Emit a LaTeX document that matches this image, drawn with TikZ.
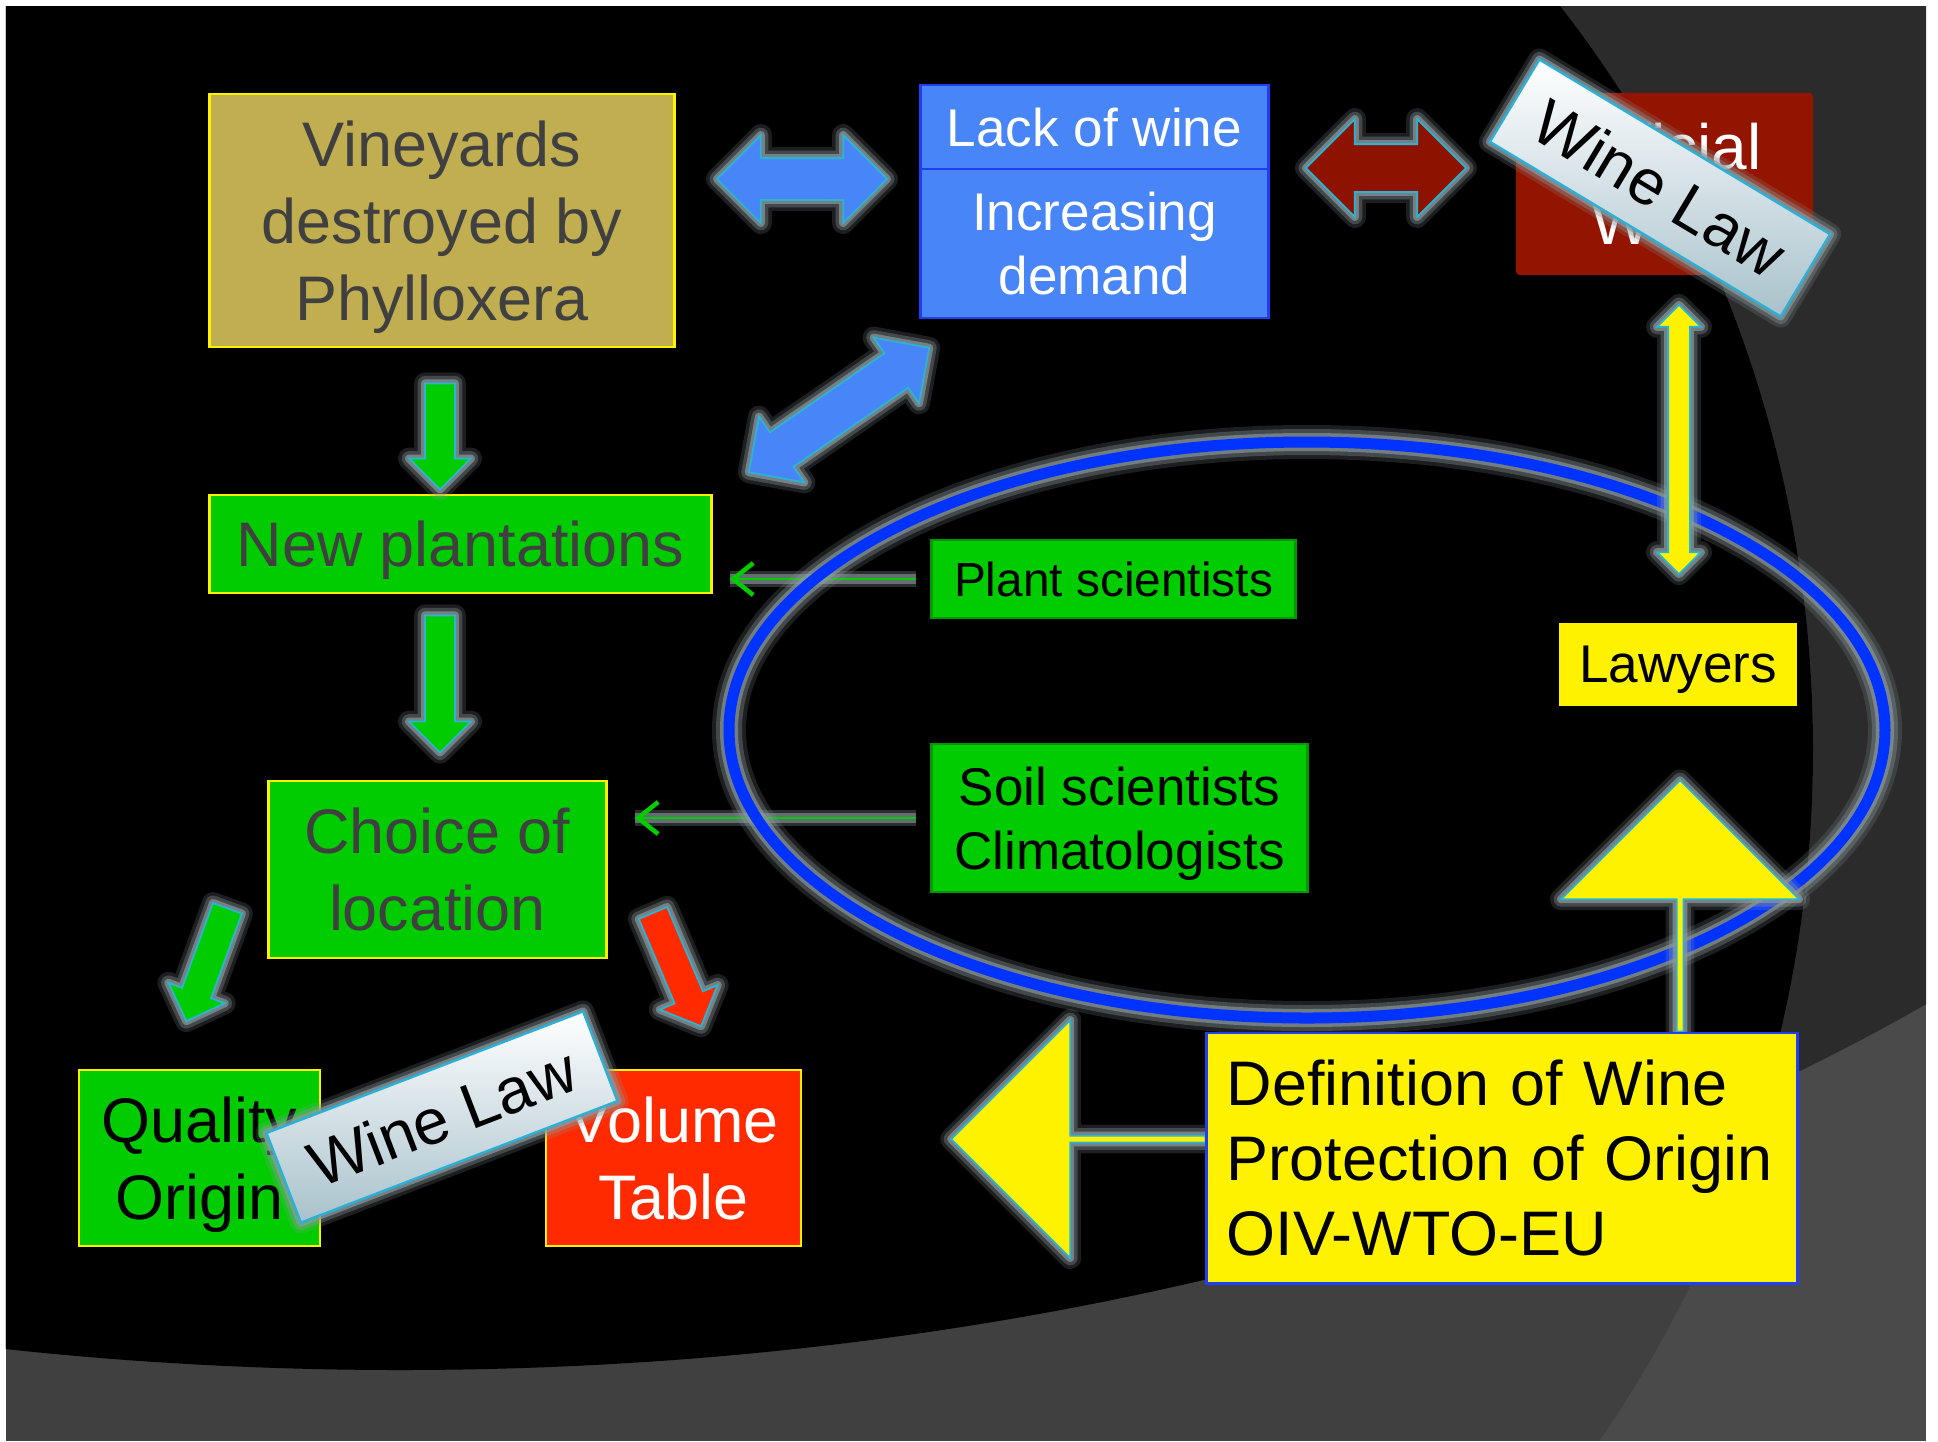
\documentclass[tikz,border=0pt]{standalone}
\usepackage{fontspec}
\setmainfont{Liberation Sans}
\usepackage{xcolor}
\usepackage{tikz}
\usetikzlibrary{shapes.arrows,arrows.meta}

\definecolor{vinegold}{HTML}{C0AE50}
\definecolor{boxgreen}{HTML}{00CC00}
\definecolor{edgegreen}{HTML}{009A00}
\definecolor{textgray}{HTML}{404040}
\definecolor{lackblue}{HTML}{4885F7}
\definecolor{lackedge}{HTML}{1F3FF5}
\definecolor{winered}{HTML}{8E1200}
\definecolor{offred}{HTML}{931500}
\definecolor{tablered}{HTML}{FF2A00}
\definecolor{arrowedge}{HTML}{2AB5D5}
\definecolor{glowgray}{HTML}{8C9A9E}
\definecolor{ringblue}{HTML}{0033FF}
\definecolor{labelblue}{HTML}{A9C2CC}
\definecolor{labeledge}{HTML}{2DB0D6}
\definecolor{darkbg}{HTML}{2B2B2B}
\definecolor{lowbg}{HTML}{404040}
\definecolor{lowbgright}{HTML}{4A4A4A}

\newcommand{\bigtext}{\fontsize{17.9}{21.9}\selectfont}
\newcommand{\deftext}{\fontsize{17.9}{21.4}\selectfont}
\newcommand{\lawtext}{\fontsize{18.2}{21.3}\selectfont}
\newcommand{\midtext}{\fontsize{15.1}{18.2}\selectfont}
\newcommand{\smalltext}{\fontsize{13.6}{16}\selectfont}

\begin{document}
\begin{tikzpicture}
    [x=0.01cm,y=-0.01cm,
    glow/.style={preaction={draw=glowgray,line width=0.22cm,opacity=0.2,line join=round},
                 preaction={draw=glowgray,line width=0.15cm,opacity=0.35,line join=round},
                 preaction={draw=glowgray,line width=0.08cm,opacity=0.7,line join=round}},
    box/.style={shape=rectangle,draw=yellow,line width=0.8pt,inner sep=0pt,align=center,text depth=0pt,font=\bigtext},
    smallbox/.style={shape=rectangle,fill=boxgreen,draw=edgegreen,line width=0.8pt,inner sep=0pt,align=center,text depth=0pt,font=\midtext},
    defbox/.style={shape=rectangle,draw=lackedge,fill=yellow,line width=0.8pt,inner ysep=0pt,inner xsep=0.2cm,align=left,font=\deftext},
    law/.style={shape=rectangle,glow,draw=labeledge,line width=0.7pt,top color=white,bottom color=labelblue,
        minimum width=3.39cm,minimum height=0.96cm,inner sep=0pt,font=\lawtext},
    twoway/.style={shape=double arrow,glow,draw=arrowedge,line width=0.5pt,inner xsep=0pt},
    oneway/.style={shape=single arrow,glow,draw=arrowedge,line width=0.5pt,inner xsep=0pt},
    feed/.style={draw=boxgreen,line width=0.7pt,-{Straight Barb[length=0.2cm,width=0.32cm,line width=1.3pt]},
        preaction={draw=glowgray,line width=0.16cm,opacity=0.3,-},
        preaction={draw=glowgray,line width=0.1cm,opacity=0.6,-}},
    ringline/.style={draw=ringblue,line width=0.11cm,
        preaction={draw=glowgray,line width=0.34cm,opacity=0.2},
        preaction={draw=glowgray,line width=0.26cm,opacity=0.35},
        preaction={draw=glowgray,line width=0.18cm,opacity=0.65}}]

    \useasboundingbox (0,0) rectangle (1938,1441);

    % slide background
    \fill [white] (0,0) rectangle (1938,1441);
    \fill [lowbgright] (6,6) rectangle (1926,1441);
    \begin{scope}
        \clip (6,6) rectangle (1926,1441);
        \fill [darkbg] (400,62) ellipse [x radius=2200, y radius=1308];
        \clip (683,750) ellipse [x radius=1130, y radius=1180];
        \fill [lowbg] (6,6) rectangle (1926,1441);
        \fill [black] (400,62) ellipse [x radius=2200, y radius=1308];
    \end{scope}

    \node (vine) [box,fill=vinegold,text=textgray,minimum width=4.64cm,minimum height=2.53cm] at (442,220.5) {Vineyards\\destroyed by\\Phylloxera};
    \node (lack) [box,draw=lackedge,fill=lackblue,text=white,font=\midtext,minimum width=3.47cm,minimum height=0.84cm] at (1094.5,127) {Lack of wine};
    \node (incr) [box,draw=lackedge,fill=lackblue,text=white,font=\midtext,minimum width=3.47cm,minimum height=1.49cm] at (1094.5,243.5) {Increasing\\demand};
    \node (official) [box,draw=none,fill=offred,text=white,font=\lawtext,rounded corners=0.04cm,minimum width=2.97cm,minimum height=1.82cm] at (1664.5,184) {Official\\Wine};
    \node (newplant) [box,fill=boxgreen,text=textgray,minimum width=5.01cm,minimum height=0.98cm] at (460.5,544) {New plantations};
    \node (plant) [smallbox,font=\smalltext,minimum width=3.63cm,minimum height=0.78cm] at (1113.5,579) {Plant scientists};
    \node (choice) [box,fill=boxgreen,text=textgray,minimum width=3.37cm,minimum height=1.77cm] at (437.5,869.5) {Choice of\\location};
    \node (soil) [smallbox,minimum width=3.75cm,minimum height=1.48cm] at (1119.5,818) {Soil scientists\\Climatologists};
    \node (lawyers) [box,fill=yellow,font=\midtext,minimum width=2.36cm,minimum height=0.81cm] at (1678,664.5) {Lawyers};
    \node (quality) [box,fill=boxgreen,minimum width=2.41cm,minimum height=1.76cm] at (199.5,1158) {Quality\\Origin};
    \node (volume) [box,fill=tablered,text=white,minimum width=2.55cm,minimum height=1.76cm] at (673.5,1158) {Volume\\Table};

    \draw [feed,shorten <=0.14cm,shorten >=0.17cm] (plant.west) to (plant.west -| newplant.east);
    \draw [feed,shorten <=0.14cm,shorten >=0.27cm] (soil.west) to (soil.west -| choice.east);

    \draw [ringline] (1307,730) ellipse [x radius=578, y radius=288];

    \node (a1) [twoway,fill=lackblue,inner ysep=0.2cm,double arrow head extend=0.23cm,minimum height=1.7cm] at (802,179) {};
    \node (a2) [twoway,fill=winered,inner ysep=0.23cm,double arrow head extend=0.25cm,minimum height=1.6cm] at (1386,168) {};
    \node (a3) [twoway,fill=lackblue,rotate=34.6,inner ysep=0.2cm,double arrow head extend=0.19cm,minimum height=2.19cm] at (839,410) {};
    \node (a4) [oneway,fill=boxgreen,rotate=-90,inner ysep=0.14cm,single arrow head extend=0.16cm,minimum height=1.06cm] at (440,429) {};
    \node (a5) [oneway,fill=boxgreen,rotate=-90,inner ysep=0.14cm,single arrow head extend=0.16cm,minimum height=1.37cm] at (440,676.5) {};
    \node (a6) [oneway,fill=boxgreen,rotate=-110,inner ysep=0.145cm,single arrow head extend=0.145cm,minimum height=1.2cm] at (209.5,957.5) {};
    \node (a7) [oneway,fill=tablered,rotate=-67,inner ysep=0.145cm,single arrow head extend=0.16cm,minimum height=1.23cm] at (674,962.5) {};
    \node (a8) [twoway,fill=yellow,rotate=90,inner ysep=0.1cm,double arrow head extend=0.11cm,minimum height=2.69cm] at (1679,439.5) {};
    \node (a9) [oneway,fill=yellow,rotate=90,inner ysep=0.025cm,single arrow head extend=1.155cm,minimum height=2.51cm] at (1680,907.5) {};
    \node (a10) [oneway,fill=yellow,rotate=180,inner ysep=0.025cm,single arrow head extend=1.155cm,minimum height=2.54cm] at (1080,1139) {};

    \node (def) [defbox,text width=5.5cm,minimum width=5.9cm,minimum height=2.5cm] at (1502,1158) {Definition of Wine\\Protection of Origin\\OIV-WTO-EU};

    \node (lawtop) [law,rotate=-31] at (1660,188) {Wine Law};
    \node (lawbot) [law,rotate=21] at (442,1117) {Wine Law};

\end{tikzpicture}
\end{document}
